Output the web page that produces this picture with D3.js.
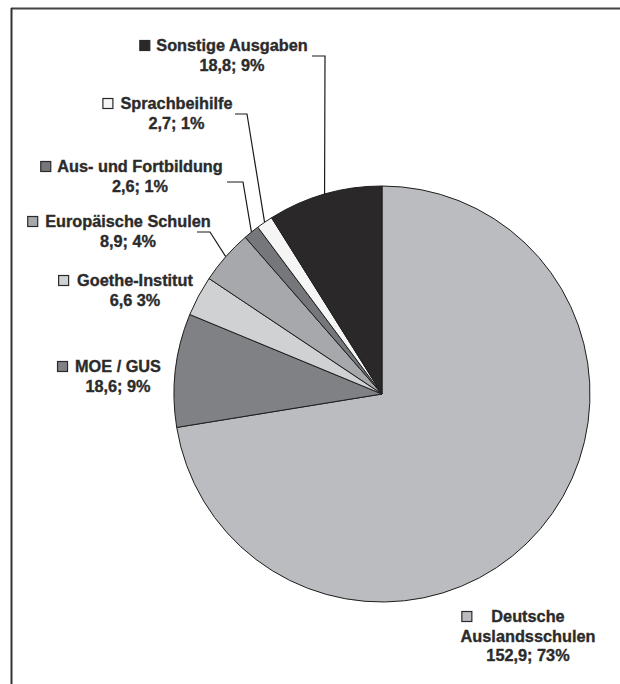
<!DOCTYPE html>
<html>
<head>
<meta charset="utf-8">
<script src="https://cdn.jsdelivr.net/npm/d3@7"></script>
<style>
  html, body { margin: 0; padding: 0; background: #fff; }
  svg { display: block; }
  text { font-family: "Liberation Sans", Arial, sans-serif; font-weight: bold; fill: #2b2b2b;
         stroke: #2b2b2b; stroke-width: 0.35px; }
</style>
</head>
<body>
<svg id="chart" width="620" height="684"></svg>
<script>
// Ausgaben nach Bereich (Mio. €), clockwise from 12 o'clock
const categories = ["Deutsche Auslandsschulen", "MOE / GUS", "Goethe-Institut", "Europäische Schulen",
                    "Aus- und Fortbildung", "Sprachbeihilfe", "Sonstige Ausgaben"];
const values = [152.9, 18.6, 6.6, 8.9, 2.6, 2.7, 18.8];
const valueLabels = ["152,9; 73%", "18,6; 9%", "6,6 3%", "8,9; 4%", "2,6; 1%", "2,7; 1%", "18,8; 9%"];
const colors = ["#bbbcbf", "#808184", "#d0d1d3", "#a7a8ab", "#76777a", "#f5f5f5", "#2a2829"];

// Label layout: text lines, centre x, first baseline, gap before the key square, optional leader elbow
const labelLayout = [
  { lines: ["Deutsche", "Auslandsschulen"], cx: 528, y: 622, gap: 19 },
  { lines: ["MOE / GUS"], cx: 118, y: 372, gap: 7 },
  { lines: ["Goethe-Institut"], cx: 135, y: 286, gap: 8 },
  { lines: ["Europäische Schulen"], cx: 128, y: 227, gap: 7, leader: [[197, 232], [210, 232]] },
  { lines: ["Aus- und Fortbildung"], cx: 140, y: 172, gap: 6, leader: [[227, 182], [243, 182]] },
  { lines: ["Sprachbeihilfe"], cx: 176.5, y: 109, gap: 7, leader: [[235, 114], [247, 114]] },
  { lines: ["Sonstige Ausgaben"], cx: 232, y: 51, gap: 6, leader: [[312, 56], [325, 56]] }
];

const svg = d3.select("#chart");
const fontSize = 16.3, lineH = 19.5, keySize = 11;

// frame (top and left edges)
svg.append("line").attr("x1", 11).attr("y1", 8.5).attr("x2", 620).attr("y2", 8.5)
  .attr("stroke", "#444").attr("stroke-width", 2);
svg.append("line").attr("x1", 11.5).attr("y1", 8).attr("x2", 11.5).attr("y2", 684)
  .attr("stroke", "#333").attr("stroke-width", 2);

const cx = 382, cy = 394, r = 208;
const pie = d3.pie().sort(null).value(d => d)(values);
const arc = d3.arc().innerRadius(0).outerRadius(r);

const g = svg.append("g").attr("transform", `translate(${cx},${cy})`);
g.selectAll("path").data(pie).join("path")
  .attr("d", arc)
  .attr("fill", (d, i) => colors[i])
  .attr("stroke", "#1e1e1e")
  .attr("stroke-width", 1)
  .attr("stroke-linejoin", "round");

// leader lines from label elbows to the slice rim midpoint
pie.forEach((d, i) => {
  const L = labelLayout[i];
  if (!L.leader) return;
  const a = (d.startAngle + d.endAngle) / 2;
  const end = [cx + r * Math.sin(a), cy - r * Math.cos(a)];
  svg.append("path")
    .attr("d", d3.line()([...L.leader, end]))
    .attr("fill", "none").attr("stroke", "#1a1a1a").attr("stroke-width", 1.2);
});

// labels with key squares
labelLayout.forEach((L, i) => {
  const lines = [...L.lines, valueLabels[i]];
  const t = svg.append("g");
  let first;
  lines.forEach((s, k) => {
    const tx = t.append("text")
      .attr("x", L.cx).attr("y", L.y + k * lineH)
      .attr("text-anchor", "middle")
      .attr("font-size", fontSize)
      .text(s);
    if (k === 0) first = tx;
  });
  const w = first.node().getComputedTextLength();
  t.append("rect")
    .attr("x", L.cx - w / 2 - L.gap - keySize + 0.5)
    .attr("y", L.y - keySize + 0.5)
    .attr("width", keySize - 1).attr("height", keySize - 1)
    .attr("fill", colors[i])
    .attr("stroke", "#2a2a2a").attr("stroke-width", 1.2);
});
</script>
</body>
</html>
